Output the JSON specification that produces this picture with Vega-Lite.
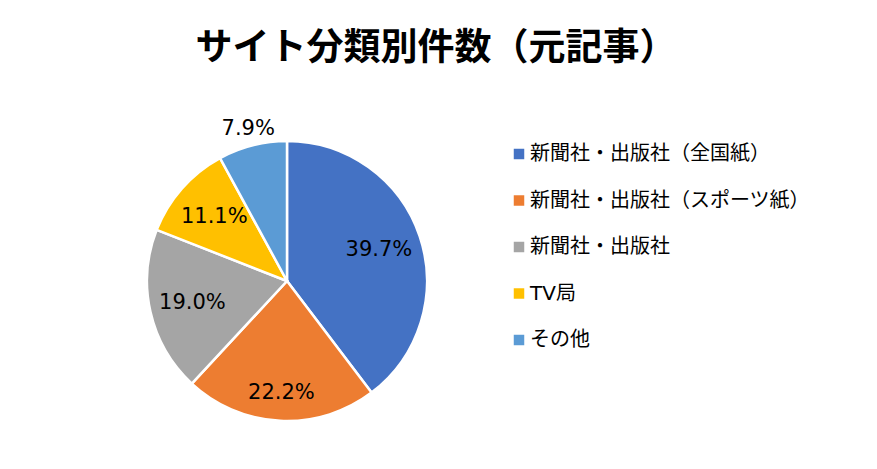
{
  "$schema": "https://vega.github.io/schema/vega-lite/v6.json",
  "autosize": {"type": "none"},
  "width": 280,
  "height": 280,
  "padding": {"left": 147, "top": 141, "right": 450, "bottom": 48},
  "background": "white",
  "title": {
    "text": "サイト分類別件数（元記事）",
    "font": "Noto Sans CJK JP",
    "fontSize": 37,
    "fontWeight": "bold",
    "color": "black",
    "anchor": "middle",
    "frame": "group",
    "baseline": "alphabetic",
    "offset": 21,
    "dx": 149
  },
  "data": {
    "values": [
      {"name": "新聞社・出版社（全国紙）", "count": 50, "label": "39.7%", "idx": 1},
      {"name": "新聞社・出版社（スポーツ紙）", "count": 28, "label": "22.2%", "idx": 2},
      {"name": "新聞社・出版社", "count": 24, "label": "19.0%", "idx": 3},
      {"name": "TV局", "count": 14, "label": "11.1%", "idx": 4},
      {"name": "その他", "count": 10, "label": "7.9%", "idx": 5}
    ]
  },
  "encoding": {
    "theta": {"field": "count", "type": "quantitative", "stack": true},
    "order": {"field": "idx", "type": "quantitative"}
  },
  "layer": [
    {
      "mark": {"type": "arc", "stroke": "white", "strokeWidth": 2.5, "radius": 140},
      "encoding": {
        "color": {
          "field": "name",
          "type": "nominal",
          "sort": null,
          "scale": {
            "domain": ["新聞社・出版社（全国紙）", "新聞社・出版社（スポーツ紙）", "新聞社・出版社", "TV局", "その他"],
            "range": ["#4472C4", "#ED7D31", "#A5A5A5", "#FFC000", "#5B9BD5"]
          },
          "legend": {
            "title": null,
            "orient": "none",
            "legendX": 362,
            "legendY": 3,
            "symbolType": "square",
            "symbolSize": 110,
            "symbolStrokeWidth": 0,
            "labelFont": "DejaVu Sans, Noto Sans CJK JP",
            "labelFontSize": 20,
            "labelColor": "#000000",
            "labelOffset": 1,
            "rowPadding": 26.5,
            "labelLimit": 400
          }
        }
      }
    },
    {
      "mark": {
        "type": "text",
        "radius": {"expr": "datum.idx == 5 ? 157 : (datum.idx == 2 ? 112 : 97)"},
        "font": "DejaVu Sans",
        "fontSize": 21,
        "color": "#000000"
      },
      "encoding": {
        "text": {"field": "label", "type": "nominal"}
      }
    }
  ]
}
